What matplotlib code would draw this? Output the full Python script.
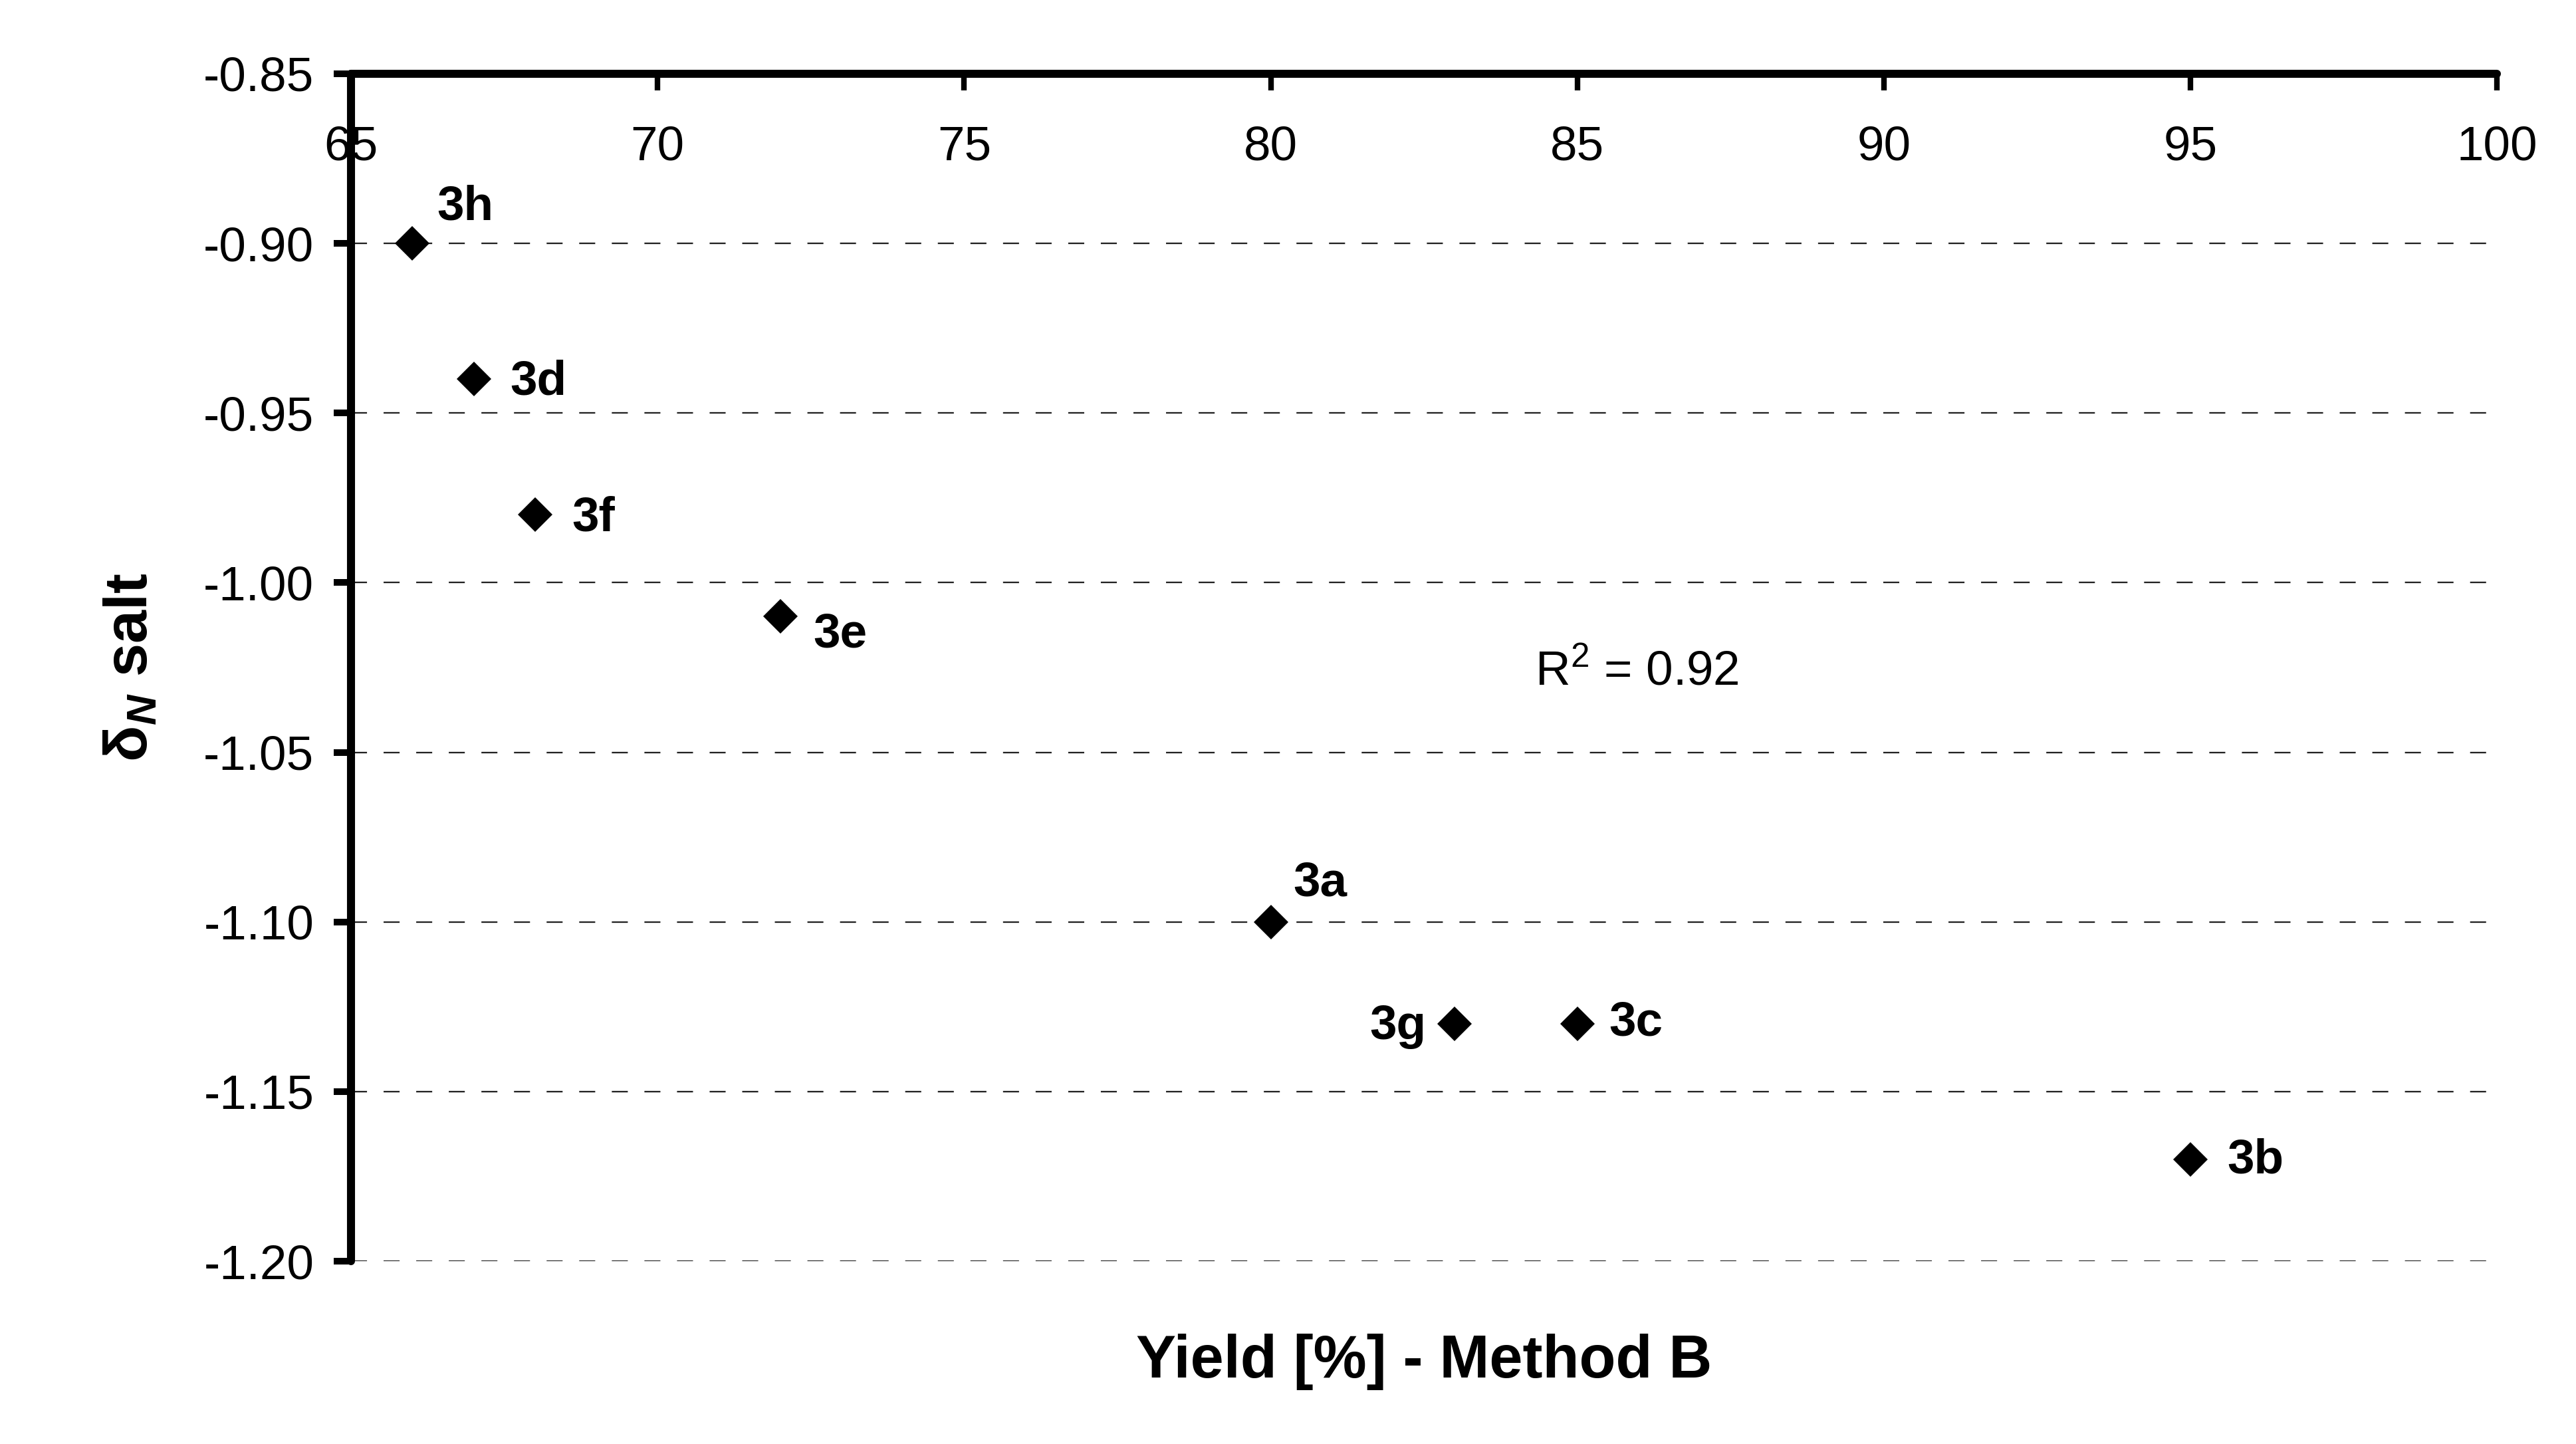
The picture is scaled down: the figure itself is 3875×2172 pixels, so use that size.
import matplotlib
matplotlib.use('Agg')
import matplotlib.pyplot as plt
from matplotlib.ticker import FormatStrFormatter

# ---- data ----
compounds = ['3h', '3d', '3f', '3e', '3a', '3g', '3c', '3b']
yield_pct = [66, 67, 68, 72, 80, 83, 85, 95]
delta_n = [-0.90, -0.94, -0.98, -1.01, -1.10, -1.13, -1.13, -1.17]
x_ticks = [65, 70, 75, 80, 85, 90, 95, 100]
y_ticks = [-0.85, -0.90, -0.95, -1.00, -1.05, -1.10, -1.15, -1.20]
r2_text = 'R$^2$ = 0.92'
r2_pos = (84.31, -1.0301)
x_label = 'Yield [%] - Method B'
y_label = 'δ$_{N}$ salt'

# ---- label placement (offset points, horizontal alignment) ----
label_style = {
    '3h': (8.9, 8.6, 'left'),
    '3d': (13.2, -5.5, 'left'),
    '3f': (13.2, -5.8, 'left'),
    '3e': (11.8, -11.0, 'left'),
    '3a': (8.2, 9.4, 'left'),
    '3g': (-10.3, -5.5, 'right'),
    '3c': (11.5, -4.3, 'left'),
    '3b': (13.2, -5.0, 'left'),
}

plt.rcParams['font.family'] = ['Liberation Sans', 'DejaVu Sans']
plt.rcParams['mathtext.fontset'] = 'custom'
plt.rcParams['mathtext.rm'] = 'Liberation Sans'
plt.rcParams['mathtext.it'] = 'Liberation Sans:italic:bold'
plt.rcParams['mathtext.bf'] = 'Liberation Sans:bold'
plt.rcParams['axes.unicode_minus'] = False

fig = plt.figure(figsize=(3875 / 300, 2172 / 300), dpi=300)
ax = fig.add_axes([0.1363, 0.1266, 0.8330, 0.8223])

ax.plot(yield_pct, delta_n, linestyle='none', marker='D', markersize=8.8,
        markeredgewidth=0, color='black', clip_on=False, zorder=3)

ax.set_xlim(65, 100)
ax.set_ylim(-1.20, -0.85)
ax.set_xticks(x_ticks)
ax.set_yticks(y_ticks)
ax.yaxis.set_major_formatter(FormatStrFormatter('%.2f'))

for s in ['right', 'bottom']:
    ax.spines[s].set_visible(False)
for s in ['top', 'left']:
    ax.spines[s].set_linewidth(2.9)
    ax.spines[s].set_capstyle('round')

ax.set_axisbelow(True)
ax.yaxis.grid(True, color='#222222', linewidth=0.55, linestyle=(0, (10.5, 10.9)))

ax.xaxis.set_ticks_position('top')
ax.tick_params(axis='x', direction='in', length=6, width=2.0, labelsize=17.5,
               pad=-34.6, top=True, bottom=False, labeltop=True, labelbottom=False)
ax.tick_params(axis='y', direction='out', length=6.2, width=2.4, labelsize=17.5,
               pad=7.2)

for name, x, y in zip(compounds, yield_pct, delta_n):
    dx, dy, ha = label_style[name]
    ax.annotate(name, (x, y), xytext=(dx, dy), textcoords='offset points',
                ha=ha, va='baseline', fontsize=17.5, fontweight='bold')

ax.text(r2_pos[0], r2_pos[1], r2_text, fontsize=17.5, ha='left', va='baseline')

ax.set_xlabel(x_label, fontsize=21.6, fontweight='bold')
ax.xaxis.set_label_coords(0.5, -0.098)
ax.xaxis.label.set_va('baseline')

ax.set_ylabel(y_label, fontsize=21.6, fontweight='bold')
ax.yaxis.set_label_coords(-0.1022, 0.5)
ax.yaxis.label.set_va('center')

fig.savefig('out.png', dpi=300)
